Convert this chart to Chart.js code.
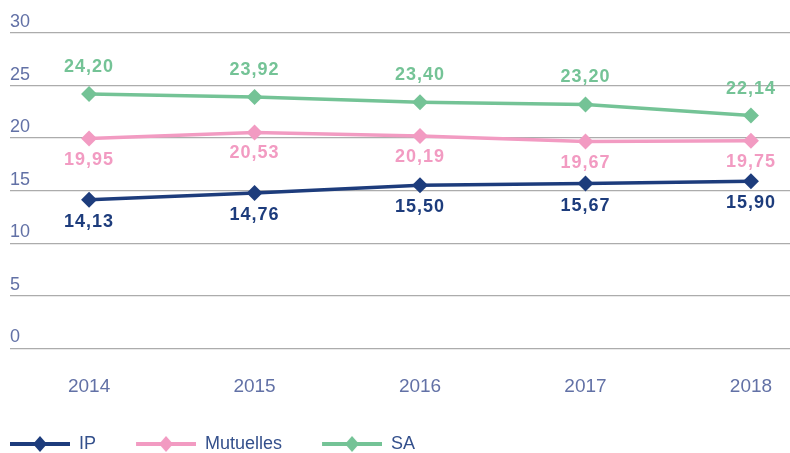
<!DOCTYPE html>
<html>
<head>
<meta charset="utf-8">
<script src="https://cdn.jsdelivr.net/npm/chart.js@4/dist/chart.umd.min.js"></script>
<style>
  html, body { margin: 0; padding: 0; background: #fff; }
  #wrap { width: 790px; height: 453px; }
</style>
</head>
<body>
<div id="wrap"><canvas id="chart"></canvas></div>
<script>
  const years = [2014, 2015, 2016, 2017, 2018];
  const ipValues = [14.13, 14.76, 15.50, 15.67, 15.90];
  const mutuellesValues = [19.95, 20.53, 20.19, 19.67, 19.75];
  const saValues = [24.20, 23.92, 23.40, 23.20, 22.14];
  const seriesNames = ['IP', 'Mutuelles', 'SA'];

  const COLORS = { ip: '#1d3c7c', mutuelles: '#f29bc2', sa: '#74c396' };
  const FONT = '"Liberation Sans", Helvetica, Arial, sans-serif';
  const TICK_COLOR = '#6271a6';

  const toPoints = (values) => values.map((v, i) => ({ x: years[i], y: v }));
  const fmt = (v) => v.toFixed(2).replace('.', ',');

  function legendIcon(color) {
    // transparent 30px on the left acts as the gap between legend items
    const c = document.createElement('canvas');
    c.width = 90;
    c.height = 18;
    const g = c.getContext('2d');
    g.strokeStyle = color;
    g.lineWidth = 4;
    g.beginPath();
    g.moveTo(30, 9);
    g.lineTo(90, 9);
    g.stroke();
    g.fillStyle = color;
    g.beginPath();
    g.moveTo(60, 1);
    g.lineTo(67, 9);
    g.lineTo(60, 17);
    g.lineTo(53, 9);
    g.closePath();
    g.fill();
    return c;
  }

  const valueLabels = {
    id: 'valueLabels',
    afterDatasetsDraw(chart) {
      const { ctx } = chart;
      ctx.save();
      ctx.font = `bold 18px ${FONT}`;
      ctx.letterSpacing = '1px';
      ctx.textAlign = 'center';
      ctx.textBaseline = 'middle';
      chart.data.datasets.forEach((ds, i) => {
        const meta = chart.getDatasetMeta(i);
        ctx.fillStyle = ds.borderColor;
        meta.data.forEach((pt, j) => {
          ctx.fillText(fmt(ds.data[j].y), pt.x, pt.y + ds.labelShift);
        });
      });
      ctx.restore();
    },
  };

  const datasets = [
    { label: seriesNames[0], data: toPoints(ipValues), borderColor: COLORS.ip, backgroundColor: COLORS.ip, labelShift: 22 },
    { label: seriesNames[1], data: toPoints(mutuellesValues), borderColor: COLORS.mutuelles, backgroundColor: COLORS.mutuelles, labelShift: 21 },
    { label: seriesNames[2], data: toPoints(saValues), borderColor: COLORS.sa, backgroundColor: COLORS.sa, labelShift: -27 },
  ].map((ds) => ({
    ...ds,
    borderWidth: 3.5,
    tension: 0,
    pointStyle: 'rectRot',
    pointRadius: 8,
    pointHoverRadius: 8,
    pointBorderWidth: 0,
  }));

  new Chart(document.getElementById('chart'), {
    type: 'line',
    data: { datasets },
    plugins: [valueLabels],
    options: {
      responsive: true,
      maintainAspectRatio: false,
      animation: false,
      layout: { autoPadding: false, padding: { left: -30, right: 0, top: 33, bottom: -10 } },
      plugins: {
        tooltip: { enabled: false },
        legend: {
          position: 'bottom',
          align: 'start',
          labels: {
            usePointStyle: true,
            pointStyleWidth: 90,
            boxHeight: 18,
            padding: 10,
            color: '#34508c',
            font: { family: FONT, size: 18 },
            generateLabels(chart) {
              return chart.data.datasets.map((ds, i) => ({
                text: ds.label,
                pointStyle: legendIcon(ds.borderColor),
                fillStyle: ds.borderColor,
                strokeStyle: ds.borderColor,
                lineWidth: 0,
                fontColor: '#34508c',
                datasetIndex: i,
                hidden: false,
              }));
            },
          },
        },
      },
      scales: {
        x: {
          type: 'linear',
          min: 2013.522,
          max: 2018.236,
          afterBuildTicks(scale) {
            scale.ticks = years.map((y) => ({ value: y }));
          },
          afterFit(scale) {
            scale.paddingLeft = 0;
            scale.paddingRight = 0;
          },
          grid: { display: false, drawTicks: false },
          border: { display: false },
          ticks: {
            padding: 27,
            color: TICK_COLOR,
            font: { family: FONT, size: 19 },
            callback: (v) => String(v),
          },
        },
        y: {
          min: 0,
          max: 30,
          afterFit(scale) {
            scale.width = 40;
            scale.paddingTop = 0;
            scale.paddingBottom = 0;
          },
          grid: { color: '#acacac', lineWidth: 1.2, drawTicks: false },
          border: { display: false },
          ticks: {
            stepSize: 5,
            mirror: true,
            padding: 0,
            labelOffset: -11,
            color: TICK_COLOR,
            font: { family: FONT, size: 18 },
          },
        },
      },
    },
  });
</script>
</body>
</html>
